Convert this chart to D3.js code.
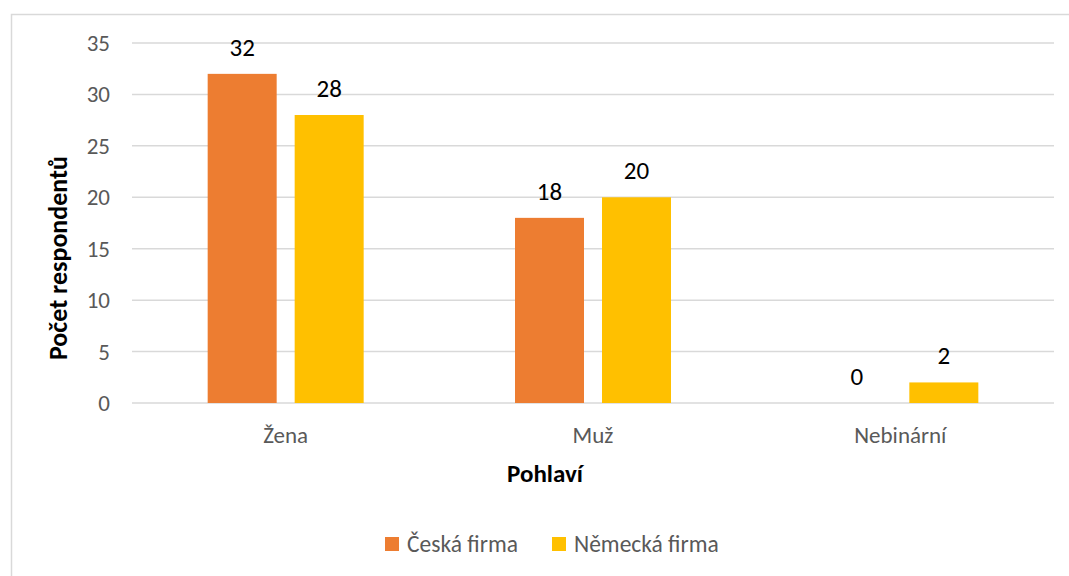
<!DOCTYPE html>
<html>
<head>
<meta charset="utf-8">
<script src="https://cdn.jsdelivr.net/npm/d3@7"></script>
<style>
  body { margin: 0; background: #fff; }
  svg { display: block; font-family: Carlito, Calibri, Lato, "Noto Sans", sans-serif; }
</style>
</head>
<body>
<div id="chart"></div>
<script>
// data
const categories = ['Žena', 'Muž', 'Nebinární'];
const seriesNames = ['Česká firma', 'Německá firma'];
const ceska = [32, 18, 0];
const nemecka = [28, 20, 2];
const yTicks = [0, 5, 10, 15, 20, 25, 30, 35];
const colors = ['#ED7D31', '#FFC000'];

const width = 1069, height = 576;
const margin = { left: 132, right: 15, top: 43, bottom: 173 };

const svg = d3.select('#chart')
    .append('svg')
    .attr('width', width)
    .attr('height', height);

// chart border
svg.append('rect')
    .attr('x', 11.5).attr('y', 14.5)
    .attr('width', width + 10).attr('height', height + 10)
    .attr('fill', 'none')
    .attr('stroke', '#d9d9d9')
    .attr('stroke-width', 1.5);

const x = d3.scaleBand()
    .domain(categories)
    .range([margin.left, width - margin.right]);

const y = d3.scaleLinear()
    .domain([0, 35])
    .range([height - margin.bottom, margin.top]);

const barW = x.bandwidth() * 0.2245;
const gap = 18;

// gridlines
svg.append('g')
    .selectAll('line')
    .data(yTicks)
    .enter()
    .append('line')
    .attr('x1', margin.left)
    .attr('x2', width - margin.right)
    .attr('y1', d => y(d))
    .attr('y2', d => y(d))
    .attr('stroke', '#d9d9d9')
    .attr('stroke-width', 1.5);

// y tick labels
svg.append('g')
    .selectAll('text')
    .data(yTicks)
    .enter()
    .append('text')
    .attr('x', 110)
    .attr('y', d => y(d))
    .attr('dy', '0.35em')
    .attr('text-anchor', 'end')
    .style('font-size', '23px')
    .style('fill', '#595959')
    .text(d => d);

// bars
const series = [ceska, nemecka];
series.forEach((vals, si) => {
    const offset = si === 0 ? -(gap / 2 + barW) : gap / 2;
    const g = svg.append('g');
    g.selectAll('rect')
        .data(vals.map((v, i) => ({ v, c: categories[i] })))
        .enter()
        .append('rect')
        .attr('x', d => x(d.c) + x.bandwidth() / 2 + offset)
        .attr('y', d => y(d.v))
        .attr('width', barW)
        .attr('height', d => y(0) - y(d.v))
        .style('fill', colors[si]);
    g.selectAll('text')
        .data(vals.map((v, i) => ({ v, c: categories[i] })))
        .enter()
        .append('text')
        .attr('x', d => x(d.c) + x.bandwidth() / 2 + offset + barW / 2)
        .attr('y', d => y(d.v) - 18)
        .attr('text-anchor', 'middle')
        .style('font-size', '25px')
        .style('fill', '#000')
        .text(d => d.v);
});

// category labels
svg.append('g')
    .selectAll('text')
    .data(categories)
    .enter()
    .append('text')
    .attr('x', d => x(d) + x.bandwidth() / 2)
    .attr('y', 443)
    .attr('text-anchor', 'middle')
    .style('font-size', '23px')
    .style('fill', '#595959')
    .text(d => d);

// axis titles
svg.append('text')
    .attr('x', 545)
    .attr('y', 482)
    .attr('text-anchor', 'middle')
    .style('font-size', '25px')
    .style('font-weight', 'bold')
    .style('fill', '#000')
    .text('Pohlaví');

svg.append('text')
    .attr('transform', 'translate(67,258) rotate(-90)')
    .attr('text-anchor', 'middle')
    .style('font-size', '26px')
    .style('font-weight', 'bold')
    .style('fill', '#000')
    .text('Počet respondentů');

// legend
const legendX = [385, 552];
const legend = svg.append('g')
    .selectAll('g')
    .data(seriesNames)
    .enter()
    .append('g')
    .attr('transform', (d, i) => 'translate(' + legendX[i] + ',552)');
legend.append('rect')
    .attr('x', 0).attr('y', -15)
    .attr('width', 14).attr('height', 14)
    .style('fill', (d, i) => colors[i]);
legend.append('text')
    .attr('x', 22)
    .style('font-size', '23.5px')
    .style('fill', '#595959')
    .text(d => d);
</script>
</body>
</html>
